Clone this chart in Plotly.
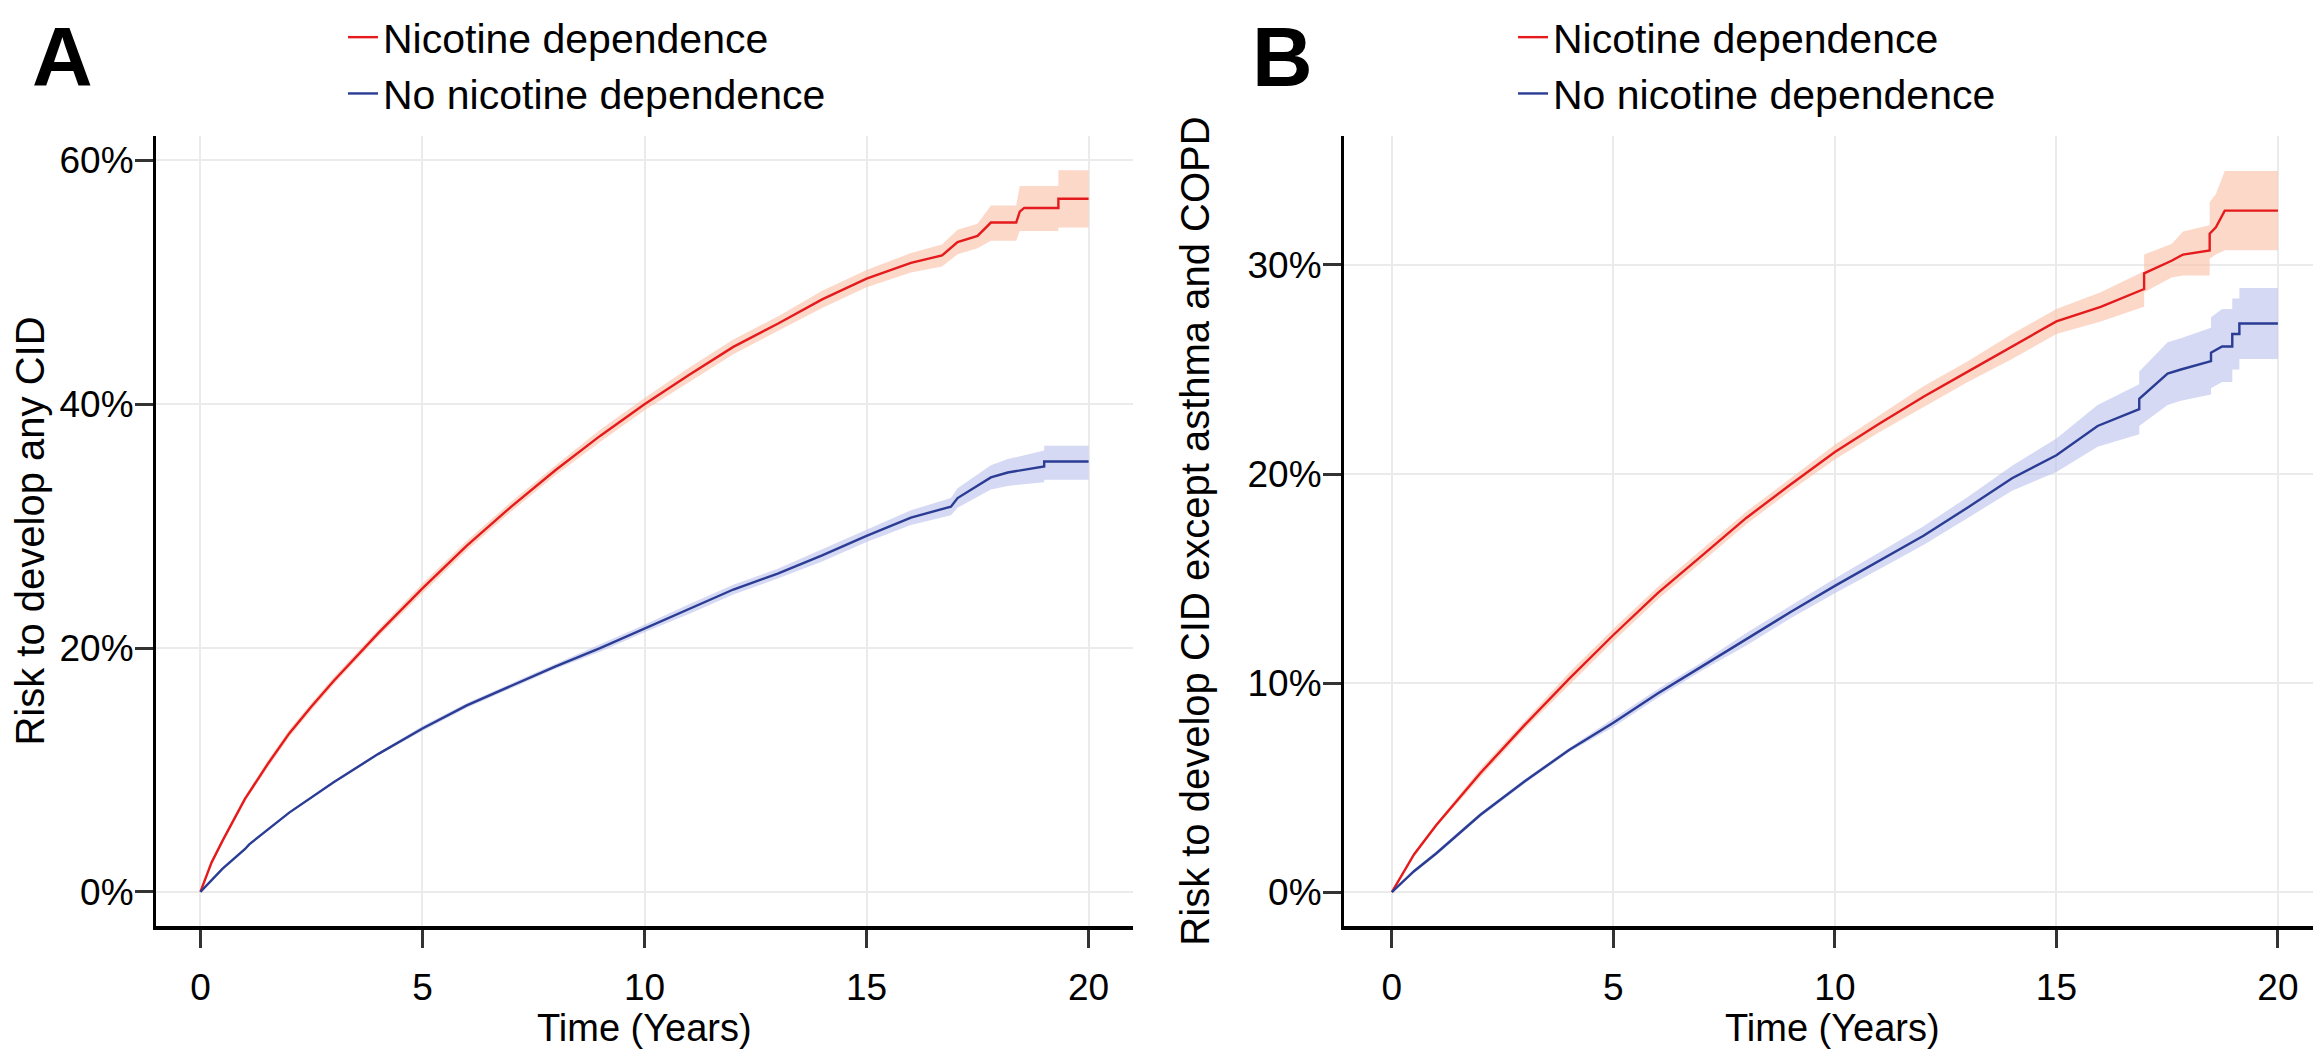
import plotly.graph_objects as go

# ---------------- Data (percent) ----------------
# Panel A : any CID
A_red_t  = [0, 0.25, 0.5, 1, 1.5, 2, 2.5, 3, 4, 5, 6, 7, 8, 9, 10, 11, 12, 13, 14, 15, 16, 16.7, 17.05, 17.5, 17.8, 18.37, 18.45, 18.55, 19.32, 19.32, 20]
A_red_y  = [0, 2.4, 4.2, 7.6, 10.4, 13.0, 15.2, 17.3, 21.2, 24.9, 28.4, 31.6, 34.6, 37.4, 40.0, 42.4, 44.7, 46.6, 48.6, 50.3, 51.6, 52.2, 53.3, 53.8, 54.9, 54.9, 55.8, 56.1, 56.1, 56.85, 56.85]
A_red_lo = [0, 2.3, 4.0, 7.4, 10.1, 12.7, 14.9, 17.0, 20.9, 24.5, 28.0, 31.2, 34.2, 36.9, 39.5, 41.8, 44.1, 46.0, 47.9, 49.6, 50.8, 51.3, 52.3, 52.8, 53.4, 53.4, 54.2, 54.2, 54.2, 54.5, 54.5]
A_red_hi = [0, 2.5, 4.4, 7.8, 10.7, 13.3, 15.5, 17.6, 21.5, 25.3, 28.8, 32.0, 35.0, 37.9, 40.5, 43.0, 45.3, 47.2, 49.3, 51.0, 52.4, 53.1, 54.3, 54.8, 56.3, 56.3, 57.9, 57.9, 57.9, 59.2, 59.2]

A_blue_t  = [0, 0.5, 1, 1.1, 2, 3, 4, 5, 6, 7, 8, 9, 10, 11, 12, 13, 14, 15, 16, 16.9, 17.05, 17.8, 18.18, 19.0, 19.0, 20]
A_blue_y  = [0, 1.9, 3.5, 3.9, 6.5, 9.0, 11.3, 13.4, 15.3, 16.9, 18.5, 20.0, 21.6, 23.2, 24.8, 26.1, 27.6, 29.2, 30.7, 31.6, 32.3, 34.0, 34.4, 34.9, 35.3, 35.3]
A_blue_lo = [0, 1.8, 3.4, 3.8, 6.4, 8.9, 11.2, 13.2, 15.1, 16.7, 18.3, 19.7, 21.3, 22.8, 24.4, 25.7, 27.1, 28.7, 30.1, 30.9, 31.5, 33.0, 33.3, 33.6, 33.8, 33.8]
A_blue_hi = [0, 2.0, 3.6, 4.0, 6.6, 9.1, 11.4, 13.6, 15.5, 17.1, 18.7, 20.3, 21.9, 23.6, 25.2, 26.5, 28.1, 29.7, 31.3, 32.3, 33.1, 35.0, 35.5, 36.2, 36.6, 36.6]

# Panel B : CID except asthma and COPD
B_red_t  = [0, 0.5, 1, 2, 3, 4, 5, 6, 7, 8, 9, 10, 11, 12, 13, 14, 15, 16, 16.98, 16.98, 17.6, 17.86, 18.46, 18.46, 18.6, 18.8, 20]
B_red_y  = [0, 1.8, 3.2, 5.7, 8.0, 10.2, 12.3, 14.3, 16.1, 17.9, 19.5, 21.05, 22.4, 23.7, 24.9, 26.1, 27.3, 28.0, 28.85, 29.6, 30.2, 30.5, 30.7, 31.5, 31.8, 32.6, 32.6]
B_red_lo = [0, 1.7, 3.1, 5.5, 7.8, 9.9, 12.0, 14.0, 15.8, 17.6, 19.2, 20.7, 22.0, 23.2, 24.4, 25.5, 26.7, 27.3, 28.0, 28.7, 29.4, 29.5, 29.5, 30.3, 30.5, 30.7, 30.7]
B_red_hi = [0, 1.9, 3.3, 5.9, 8.2, 10.5, 12.6, 14.6, 16.4, 18.2, 19.8, 21.4, 22.8, 24.2, 25.4, 26.7, 27.9, 28.7, 29.7, 30.5, 31.0, 31.6, 31.9, 33.0, 33.4, 34.5, 34.5]

B_blue_t  = [0, 0.5, 1, 2, 3, 4, 5, 6, 7, 8, 9, 10, 11, 12, 13, 14, 15, 15.93, 16.87, 16.87, 17.51, 17.81, 18.49, 18.49, 18.74, 18.97, 18.97, 19.13, 19.13, 20]
B_blue_y  = [0, 1.0, 1.85, 3.7, 5.3, 6.8, 8.1, 9.5, 10.8, 12.1, 13.4, 14.65, 15.85, 17.05, 18.4, 19.8, 20.9, 22.3, 23.1, 23.6, 24.8, 25.0, 25.4, 25.8, 26.1, 26.1, 26.7, 26.7, 27.2, 27.2]
B_blue_lo = [0, 0.9, 1.75, 3.6, 5.2, 6.7, 7.9, 9.3, 10.6, 11.8, 13.1, 14.3, 15.45, 16.6, 17.9, 19.2, 20.1, 21.3, 21.9, 22.3, 23.3, 23.5, 23.8, 24.1, 24.4, 24.4, 25.0, 25.0, 25.5, 25.5]
B_blue_hi = [0, 1.1, 1.95, 3.8, 5.4, 6.9, 8.3, 9.7, 11.0, 12.4, 13.7, 15.0, 16.25, 17.5, 18.9, 20.4, 21.7, 23.3, 24.3, 24.9, 26.3, 26.5, 27.0, 27.5, 27.9, 27.9, 28.4, 28.4, 28.9, 28.9]

group_names = ["Nicotine dependence", "No nicotine dependence"]
x_ticks = [0, 5, 10, 15, 20]
A_y_ticks = [0, 20, 40, 60]
A_y_labels = ["0%", "20%", "40%", "60%"]
B_y_ticks = [0, 10, 20, 30]
B_y_labels = ["0%", "10%", "20%", "30%"]
x_title = "Time (Years)"
A_y_title = "Risk to develop any CID"
B_y_title = "Risk to develop CID except asthma and COPD"

RED, BLUE = "#E41A1C", "#2A3C94"
RED_FILL, BLUE_FILL = "rgba(250,190,165,0.6)", "rgba(185,192,235,0.6)"

SANS = "Liberation Sans, Arial, sans-serif"

fig = go.Figure()


def add_group(t, y, lo, hi, color, fill, name, xa, ya, legend):
    fig.add_trace(go.Scatter(x=t, y=lo, mode="lines", line=dict(width=0, color=fill),
                             hoverinfo="skip", showlegend=False, xaxis=xa, yaxis=ya))
    fig.add_trace(go.Scatter(x=t, y=hi, mode="lines", line=dict(width=0, color=fill),
                             fill="tonexty", fillcolor=fill, hoverinfo="skip",
                             showlegend=False, xaxis=xa, yaxis=ya))
    fig.add_trace(go.Scatter(x=t, y=y, mode="lines", name=name,
                             line=dict(color=color, width=2.4),
                             xaxis=xa, yaxis=ya, legend=legend))


add_group(A_red_t, A_red_y, A_red_lo, A_red_hi, RED, RED_FILL, group_names[0], "x", "y", "legend")
add_group(A_blue_t, A_blue_y, A_blue_lo, A_blue_hi, BLUE, BLUE_FILL, group_names[1], "x", "y", "legend")
add_group(B_red_t, B_red_y, B_red_lo, B_red_hi, RED, RED_FILL, group_names[0], "x2", "y2", "legend2")
add_group(B_blue_t, B_blue_y, B_blue_lo, B_blue_hi, BLUE, BLUE_FILL, group_names[1], "x2", "y2", "legend2")

W, H = 2321, 1056
ML, MR, MT, MB = 148, 5, 128, 138
PW = W - ML - MR
PH = H - MT - MB


def px_x(p):
    return (p - ML) / PW


def px_y(p):
    return 1 - (p - MT) / PH


axis_common = dict(showline=True, linecolor="black", linewidth=3, mirror=False,
                   showgrid=True, gridcolor="#EBEBEB", gridwidth=2, zeroline=False,
                   ticks="outside", ticklen=18, tickwidth=2.5, tickcolor="#333333",
                   tickfont=dict(family=SANS, size=37, color="black"))

xa = dict(axis_common, tickvals=x_ticks, linewidth=4, ticklabelstandoff=8)

title_font = dict(family=SANS, size=38, color="black")
ytitle_font = dict(family=SANS, size=40, color="black")
legend_font = dict(family=SANS, size=41, color="black")

fig.update_layout(
    width=W, height=H,
    margin=dict(l=ML, r=MR, t=MT, b=MB, autoexpand=False),
    paper_bgcolor="white", plot_bgcolor="white",
    showlegend=True,
    xaxis=dict(xa, domain=[0, px_x(1125)], anchor="y", range=[-1.0, 21.0]),
    xaxis2=dict(xa, domain=[px_x(1336), px_x(2312)], anchor="y2", range=[-1.08, 20.95]),
    yaxis=dict(axis_common, domain=[0, 1], anchor="x", range=[-2.8, 62],
               tickvals=A_y_ticks, ticktext=A_y_labels, ticklabelstandoff=-6,
               title=dict(text=A_y_title, font=ytitle_font, standoff=38)),
    yaxis2=dict(axis_common, domain=[0, 1], anchor="x2", range=[-1.62, 36.17],
                tickvals=B_y_ticks, ticktext=B_y_labels, ticklabelstandoff=-6,
                title=dict(text=B_y_title, font=ytitle_font, standoff=26)),
    legend=dict(x=px_x(335), y=px_y(-4), xanchor="left", yanchor="top", bgcolor="rgba(0,0,0,0)",
                font=legend_font, itemwidth=30, tracegroupgap=0, traceorder="normal"),
    legend2=dict(x=px_x(1505), y=px_y(-4), xanchor="left", yanchor="top", bgcolor="rgba(0,0,0,0)",
                 font=legend_font, itemwidth=30, tracegroupgap=0, traceorder="normal"),
    annotations=[
        dict(text="<b>A</b>", xref="paper", yref="paper", x=px_x(22), y=px_y(0), xanchor="left", yanchor="top",
             showarrow=False, font=dict(family=SANS, size=84, color="black")),
        dict(text="<b>B</b>", xref="paper", yref="paper", x=px_x(1242), y=px_y(0), xanchor="left", yanchor="top",
             showarrow=False, font=dict(family=SANS, size=84, color="black")),
        dict(text=x_title, xref="x domain", yref="paper", x=0.5, y=px_y(1020), xanchor="center", yanchor="middle",
             showarrow=False, font=title_font),
        dict(text=x_title, xref="x2 domain", yref="paper", x=0.5, y=px_y(1020), xanchor="center", yanchor="middle",
             showarrow=False, font=title_font),
    ],
)

fig.write_html("out.html")
